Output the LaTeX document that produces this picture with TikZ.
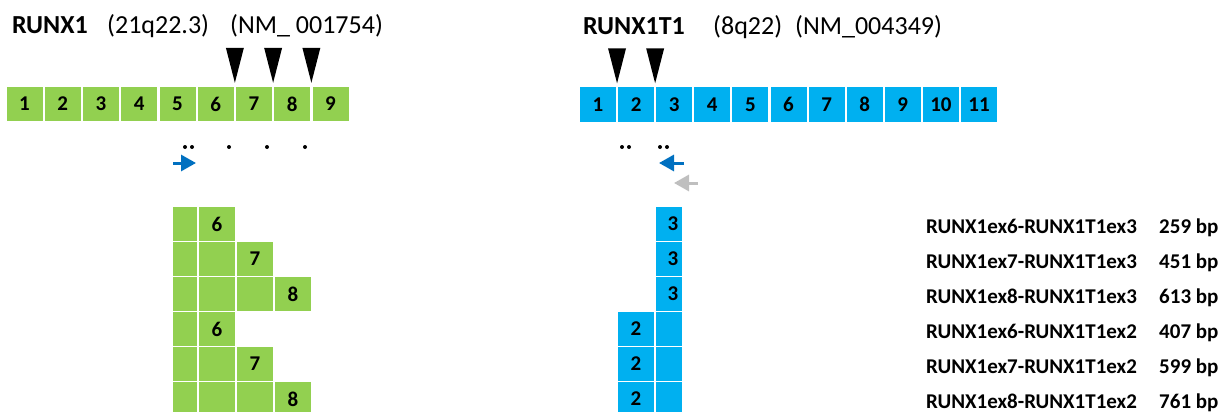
\documentclass[tikz,border=0pt]{standalone}
\usepackage{fontspec}
\setmainfont{Carlito}
\usetikzlibrary{arrows.meta,calc}
\definecolor{exgreen}{HTML}{92D050}
\definecolor{exblue}{HTML}{00B0F0}
\definecolor{primblue}{HTML}{0070C0}
\definecolor{primgray}{HTML}{BFBFBF}
\begin{document}
\begin{tikzpicture}[x=1pt,y=-1pt,
  exbox/.style={minimum width=36pt,minimum height=34pt,inner sep=0pt,font=\fontsize{21}{21}\selectfont\bfseries},
  gbox/.style={exbox,fill=exgreen},
  bbox/.style={exbox,fill=exblue},
  narrowA/.style={minimum width=24pt},
  narrowB/.style={minimum width=26pt},
  gtitle/.style={anchor=base west,inner sep=0pt,font=\fontsize{26}{26}\selectfont\bfseries},
  gsub/.style={anchor=base west,inner sep=0pt,font=\fontsize{26}{26}\selectfont},
  lbl/.style={anchor=base west,inner sep=0pt,font=\fontsize{21}{21}\selectfont\bfseries},
  bpmark/.style={fill=black},
  dotmark/.style={fill=black},
  primer/.style={line width=3pt,-{Triangle[length=15pt,width=16pt]}}
]
\useasboundingbox (0,0) rectangle (1224,412);

% titles
\node[gtitle] (tL) at (12,33.5) {RUNX1};
\node[gsub] (tL2) at (107,33.5) {(21q22.3)};
\node[gsub] (tL3) at (230,33.5) {(NM\_ 001754)};
\node[gtitle] (tR) at (583,35) {RUNX1T1};
\node[gsub] (tR2) at (713,35) {(8q22)};
\node[gsub] (tR3) at (795,35) {(NM\_004349)};

% exon bars
\foreach \i in {1,...,9}
  \node[gbox] (L\i) at ({6.5+(\i-1)*38.25+18},104) {\i};
\foreach \i in {1,...,11}
  \node[bbox] (R\i) at ({580+(\i-1)*38.1+18},104.5) {\i};

% breakpoint triangles
\foreach \a/\b [count=\k] in {L6/L7,L7/L8,L8/L9,R1/R2,R2/R3}{
  \coordinate (bp\k) at ($(\a.north east)!0.5!(\b.north west)+(0,-4)$);
  \fill[bpmark] (bp\k) -- ++(-9,-35) -- ++(18,0) -- cycle;
}

% dots
\foreach \x in {185,192,229,267,305,622,629,660,667}
  \fill[dotmark] (\x,147) circle (2);

% primers
\coordinate (p1s) at (173,163); \coordinate (p1e) at (196,163);
\draw[primer,primblue] (p1s) -- (p1e);
\coordinate (p2s) at (684,163); \coordinate (p2e) at (659,163);
\draw[primer,primblue] (p2s) -- (p2e);
\coordinate (p3s) at (698,183); \coordinate (p3e) at (674,183);
\draw[primer,primgray] (p3s) -- (p3e);

% fusion transcripts, left (RUNX1 part)
\foreach \r/\n in {1/6,2/7,3/8,4/6,5/7,6/8}{
  \pgfmathsetmacro{\yc}{207+35*(\r-1)+17}
  \node[gbox,narrowA] (a\r) at (185,\yc) {};
  \ifnum\n=6
    \node[gbox] (b\r) at (217,\yc) {6};
  \else
    \node[gbox] (b\r) at (217,\yc) {};
  \fi
  \ifnum\n=7
    \node[gbox] (c\r) at (255,\yc) {7};
  \fi
  \ifnum\n=8
    \node[gbox] (c\r) at (255,\yc) {};
    \node[gbox] (d\r) at (293,\yc) {8};
  \fi
}
% right (RUNX1T1 part)
\foreach \r in {1,2,3}{
  \pgfmathsetmacro{\yc}{207+35*(\r-1)+17}
  \node[bbox,narrowB] (e\r) at (669,\yc) {\hspace*{8pt}3};
}
\foreach \r in {4,5,6}{
  \pgfmathsetmacro{\yc}{207+35*(\r-1)+17}
  \node[bbox] (f\r) at (636,\yc) {2};
  \node[bbox,narrowB] (e\r) at (669,\yc) {};
}

% labels
\foreach \r/\t/\s in {1/RUNX1ex6-RUNX1T1ex3/259 bp,2/RUNX1ex7-RUNX1T1ex3/451 bp,3/RUNX1ex8-RUNX1T1ex3/613 bp,4/RUNX1ex6-RUNX1T1ex2/407 bp,5/RUNX1ex7-RUNX1T1ex2/599 bp,6/RUNX1ex8-RUNX1T1ex2/761 bp}{
  \pgfmathsetmacro{\yb}{207+35*(\r-1)+17+9.5}
  \node[lbl] (n\r) at (926,\yb) {\t};
  \node[lbl] (s\r) at (1159,\yb) {\s};
}
\end{tikzpicture}
\end{document}
